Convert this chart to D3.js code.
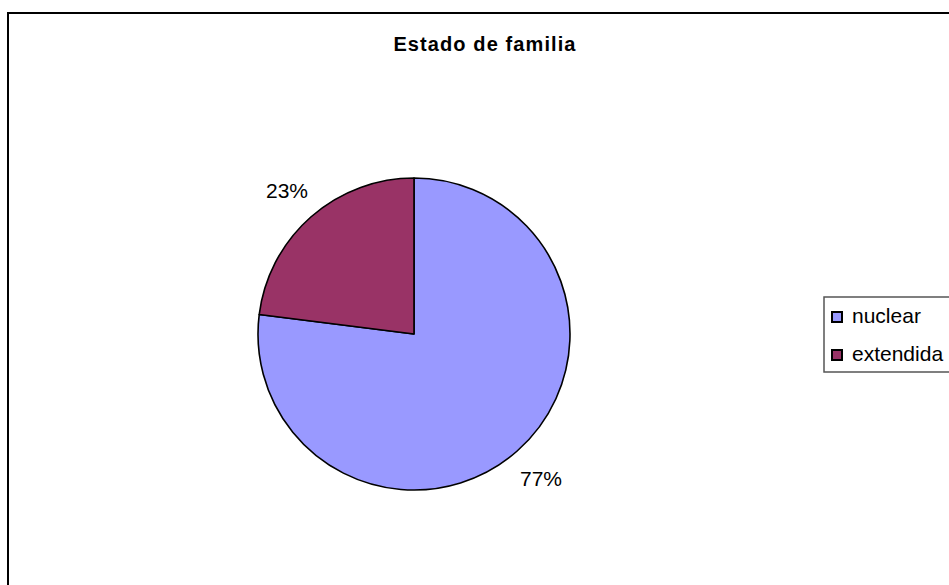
<!DOCTYPE html>
<meta charset="utf-8">
<style>
    body { margin: 0; background: #fff; }
    text { font-family: "Liberation Sans", Arial, sans-serif; fill: #000; }
    .title { font-weight: bold; font-size: 20px; letter-spacing: 1.1px; }
    .perc { font-size: 21px; }
    .legend text { font-size: 21px; }
</style>
<body>
<script src="https://d3js.org/d3.v7.min.js"></script>
<script>
var categories = ["nuclear", "extendida"];
var values = [77, 23];
var colors = ["#9999FF", "#993366"];

var width = 949, height = 585;
var svg = d3.select("body").append("svg").attr("width", width).attr("height", height);

// outer chart frame (runs off the right and bottom edges)
svg.append("rect")
    .attr("x", 8).attr("y", 13)
    .attr("width", 1000).attr("height", 1000)
    .attr("fill", "#fff")
    .attr("stroke", "#000")
    .attr("stroke-width", 2);

svg.append("text").attr("class", "title")
    .attr("x", 485).attr("y", 51)
    .attr("text-anchor", "middle")
    .text("Estado de familia");

var r = 156;
var g = svg.append("g").attr("transform", "translate(414,334)");

var pie = d3.pie().sort(null).value(d => d);
var arcs = pie(values);
var total = d3.sum(values);

var arc = d3.arc().innerRadius(0).outerRadius(r);
var labelArc = d3.arc().innerRadius(r + 36).outerRadius(r + 36);

g.selectAll("path.slice")
    .data(arcs)
    .enter().append("path")
    .attr("class", "slice")
    .attr("d", arc)
    .attr("fill", (d, i) => colors[i])
    .attr("stroke", "#000")
    .attr("stroke-width", 1.6)
    .attr("stroke-linejoin", "round");

g.selectAll("text.perc")
    .data(arcs)
    .enter().append("text")
    .attr("class", "perc")
    .attr("transform", d => "translate(" + labelArc.centroid(d) + ")")
    .attr("text-anchor", "middle")
    .attr("dy", "0.36em")
    .text(d => d3.format(".0%")(d.data / total));

// legend
var legend = svg.append("g").attr("class", "legend");
legend.append("rect")
    .attr("x", 824).attr("y", 297)
    .attr("width", 200).attr("height", 75)
    .attr("fill", "#fff")
    .attr("stroke", "#555")
    .attr("stroke-width", 1.5);

var items = legend.selectAll("g.item")
    .data(categories)
    .enter().append("g")
    .attr("class", "item")
    .attr("transform", (d, i) => "translate(0," + (i * 38) + ")");

items.append("rect")
    .attr("x", 832).attr("y", 312)
    .attr("width", 10).attr("height", 10)
    .attr("fill", (d, i) => colors[i])
    .attr("stroke", "#000")
    .attr("stroke-width", 2);

items.append("text")
    .attr("x", 852).attr("y", 323)
    .text(d => d);
</script>
</body>
</html>
